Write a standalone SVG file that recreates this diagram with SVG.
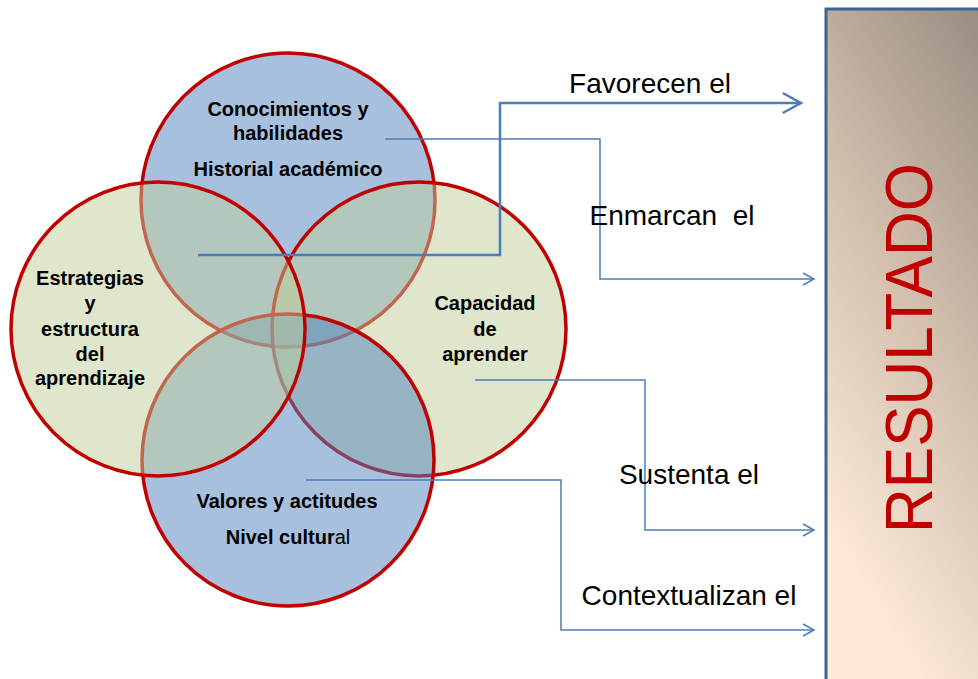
<svg xmlns="http://www.w3.org/2000/svg" width="978" height="679" viewBox="0 0 978 679">
  <style>
    .c { stroke: #c00000; stroke-width: 3.5; fill-opacity: 0.5; }
    .blue { fill: #4f81bd; }
    .green { fill: #bfcd99; }
    .t { font-family: "Liberation Sans", Arial, sans-serif; font-weight: bold; font-size: 20px; fill: #000; text-anchor: middle; }
    .lbl { font-family: "Liberation Sans", Arial, sans-serif; font-size: 28px; fill: #000; text-anchor: middle; }
    .con { fill: none; stroke: #4a7ebb; stroke-width: 1.5; marker-end: url(#arr); }
    .thick { stroke-width: 2.5; }
  </style>
  <defs>
    <marker id="arr" markerUnits="strokeWidth" markerWidth="10" markerHeight="10" refX="7.3" refY="4" orient="auto" overflow="visible">
      <path d="M0,0 L7.3,4 L0,8" fill="none" stroke="#4a7ebb" stroke-width="1"/>
    </marker>
    <linearGradient id="rg" x1="1" y1="0" x2="0.6" y2="1">
      <stop offset="0" stop-color="#948a7f"/>
      <stop offset="0.5" stop-color="#d0bcab"/>
      <stop offset="1" stop-color="#fde9d6"/>
    </linearGradient>
  </defs>

  <g id="resultado">
    <rect x="826" y="9" width="170" height="690" fill="url(#rg)" stroke="#3c6392" stroke-width="3"/>
    <text transform="translate(932,348) rotate(-90)" text-anchor="middle" font-family="Liberation Sans, Arial, sans-serif" font-size="67" fill="#c00000" textLength="370" lengthAdjust="spacingAndGlyphs">RESULTADO</text>
  </g>

  <g id="conocimientos">
    <circle class="c blue" cx="288" cy="200" r="147"/>
    <text class="t" x="288" y="116">Conocimientos y</text>
    <text class="t" x="288" y="140">habilidades</text>
    <text class="t" x="288" y="176">Historial académico</text>
  </g>

  <g id="capacidad">
    <circle class="c green" cx="419" cy="329" r="147"/>
    <text class="t" x="485" y="310">Capacidad</text>
    <text class="t" x="485" y="336">de</text>
    <text class="t" x="485" y="361">aprender</text>
  </g>

  <g id="valores">
    <circle class="c blue" cx="288" cy="460" r="146"/>
    <text class="t" x="287" y="508">Valores y actitudes</text>
    <text class="t" x="288" y="544">Nivel cultur<tspan font-weight="normal">al</tspan></text>
  </g>

  <g id="estrategias">
    <circle class="c green" cx="158" cy="329" r="147"/>
    <text class="t" x="90" y="285">Estrategias</text>
    <text class="t" x="90" y="310">y</text>
    <text class="t" x="90" y="336">estructura</text>
    <text class="t" x="90" y="361">del</text>
    <text class="t" x="90" y="385">aprendizaje</text>
  </g>

  <g id="connectors">
    <polyline class="con thick" points="198,255 500,255 500,103 801,103"/>
    <polyline class="con" points="385,139 600,139 600,279 814,279"/>
    <polyline class="con" points="475,380 645,380 645,530 814,530"/>
    <polyline class="con" points="306,480 561,480 561,630 814,630"/>
  </g>

  <g id="labels">
    <text class="lbl" x="650" y="93">Favorecen el</text>
    <text class="lbl" x="672" y="225" xml:space="preserve">Enmarcan  el</text>
    <text class="lbl" x="689" y="484">Sustenta el</text>
    <text class="lbl" x="689" y="605">Contextualizan el</text>
  </g>
</svg>
